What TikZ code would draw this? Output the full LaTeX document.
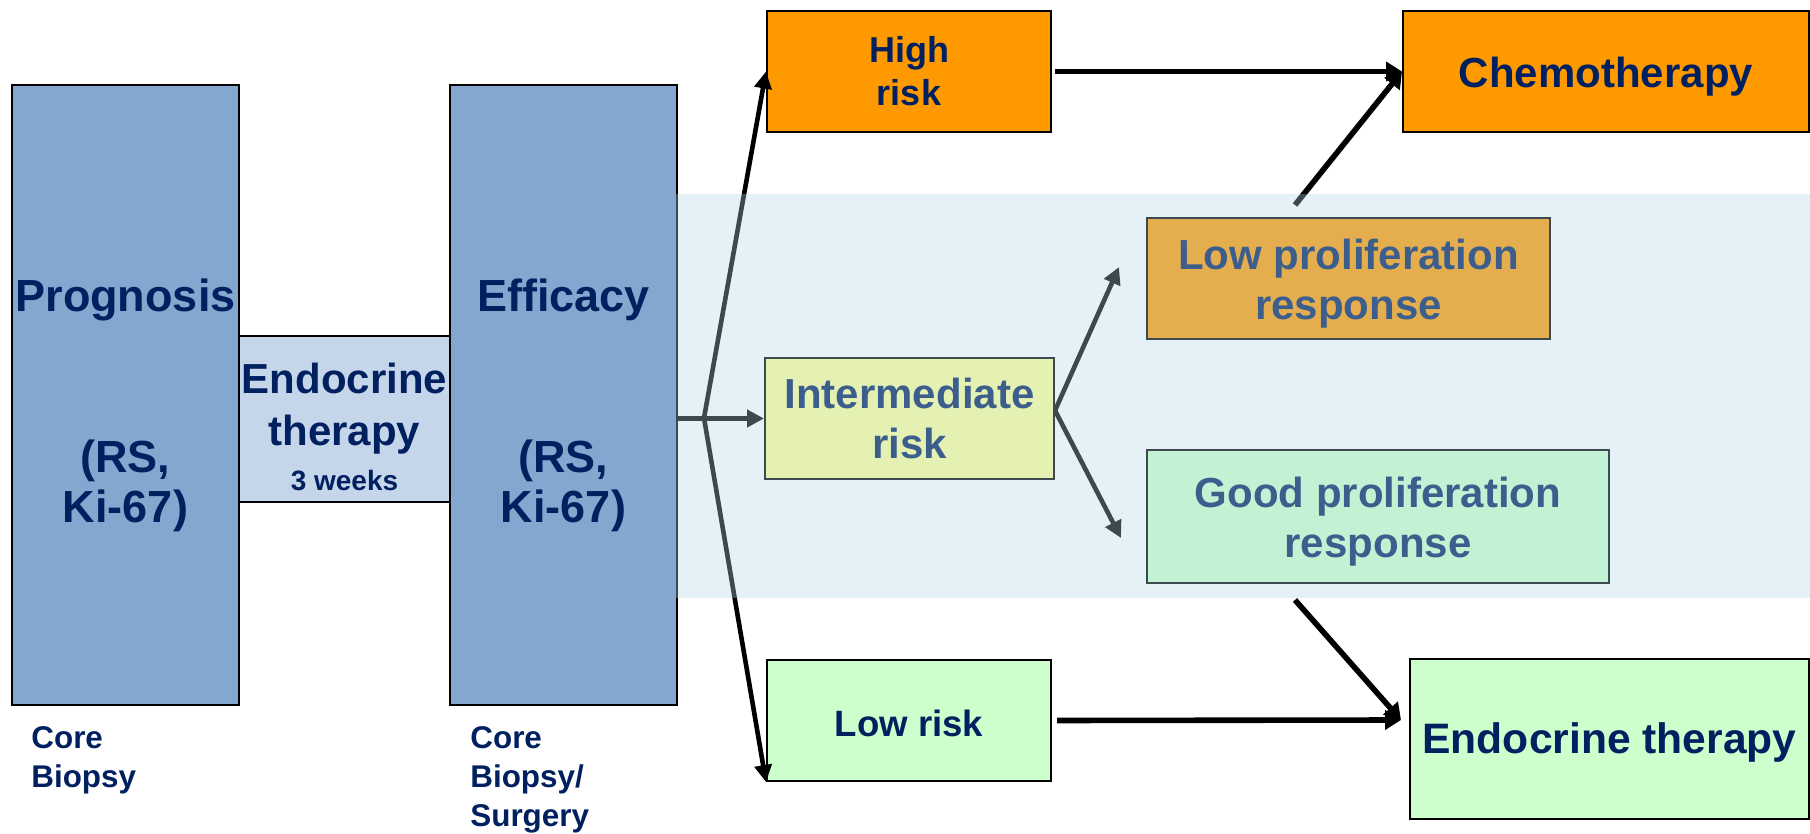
\documentclass[tikz,border=0pt]{standalone}
\usepackage{fontspec}
\setmainfont{Liberation Sans}
\usepackage{tikz}
\usetikzlibrary{arrows.meta}

\begin{document}
\begin{tikzpicture}[x = 0.5pt, y = -0.5pt,
		box/.style = {draw, line width = 1pt, inner sep = 0pt, anchor = north west, align = center, text = navy},
		tall box/.style = {box, fill = blockBlue, minimum width = 113.5pt, minimum height = 310pt,
			font = \bfseries\fontsize{22.5}{25}\selectfont},
		first line/.style = {execute at begin node = {\rule{0pt}{#1}}},
		note/.style = {inner sep = 0pt, anchor = north west, align = left, text = navy,
			font = \bfseries\fontsize{15.7}{19.6}\selectfont},
		flow/.style = {line width = 2.3pt, -{Triangle[length = 8.5pt, width = 8.5pt]}},
		thick flow/.style = {line width = 2.8pt, -{Triangle[length = 8pt, width = 9.5pt]}},
		]

		\definecolor{navy}{RGB}{0, 32, 96}
		\definecolor{blockBlue}{RGB}{132, 167, 207}
		\definecolor{paleBlue}{RGB}{197, 213, 234}
		\definecolor{riskOrange}{RGB}{255, 153, 0}
		\definecolor{paleYellow}{RGB}{255, 255, 153}
		\definecolor{paleGreen}{RGB}{204, 255, 204}
		\definecolor{bandBlue}{RGB}{176, 214, 230}

		\useasboundingbox (0, 0) rectangle (1810, 834);

		% Measurement columns
		\node[tall box] (prog) at (11, 84) {\rule{0pt}{26.6pt}Prognosis\\[55.5pt](RS,\\Ki-67)};
		\node[box, fill = paleBlue, minimum width = 105.5pt, minimum height = 83pt,
			font = \bfseries\fontsize{21}{26}\selectfont] (endoShort) at (238, 335)
			{\rule{0pt}{23pt}Endocrine\\therapy\\[-3.5pt]{\fontsize{14}{17}\selectfont 3 weeks}};
		\node[tall box] (eff) at (449, 84) {\rule{0pt}{26.6pt}Efficacy\\[55.5pt](RS,\\Ki-67)};

		\node[note] (coreProg) at (31, 726) {Core\\Biopsy};
		\node[note] (coreEff) at (470, 726) {Core\\Biopsy/\\Surgery};

		% Risk groups
		\node[box, fill = riskOrange, minimum width = 142pt, minimum height = 60.5pt,
			font = \bfseries\fontsize{18}{21.5}\selectfont] (high) at (766, 10) {High\\risk};
		\node[box, fill = paleYellow, minimum width = 144.5pt, minimum height = 60.5pt,
			font = \bfseries\fontsize{21}{25}\selectfont] (inter) at (764, 357) {Intermediate\\risk};
		\node[box, fill = paleGreen, minimum width = 142pt, minimum height = 60.5pt, first line = 15.9pt,
			font = \bfseries\fontsize{18.3}{22}\selectfont] (lowRisk) at (766, 659) {Low risk};

		% Proliferation response
		\node[box, fill = riskOrange, minimum width = 201.5pt, minimum height = 60.5pt,
			font = \bfseries\fontsize{21}{25}\selectfont] (lowProl) at (1146, 217)
			{\rule{0pt}{20.1pt}Low proliferation\\response};
		\node[box, fill = paleGreen, minimum width = 231pt, minimum height = 66.5pt,
			font = \bfseries\fontsize{21}{25}\selectfont] (goodProl) at (1146, 449)
			{\rule{0pt}{20.4pt}Good proliferation\\response};

		% Treatments
		\node[box, fill = riskOrange, minimum width = 203pt, minimum height = 60.5pt, first line = 20.4pt,
			font = \bfseries\fontsize{21}{25}\selectfont] (chemo) at (1402, 10) {Chemotherapy};
		\node[box, fill = paleGreen, minimum width = 199.5pt, minimum height = 80pt, first line = 19.2pt,
			font = \bfseries\fontsize{21.3}{25}\selectfont] (endoLong) at (1409, 658) {Endocrine therapy};

		% Arrow end points
		\coordinate (fork) at (704, 418);
		\coordinate (lowProlIn) at (1119, 267);
		\coordinate (goodProlIn) at (1121, 538);
		\coordinate (lowProlOut) at (1295, 205);
		\coordinate (goodProlOut) at (1295, 600);
		\coordinate (endoIn) at (1401, 720);

		% Efficacy to risk groups
		\draw[flow] (eff.east |- inter.west) -- (inter.west);
		\draw[flow] (fork) -- (high.west);
		\draw[flow] (fork) -- (lowRisk.south west);

		% Intermediate split
		\draw[flow] ([yshift = 4pt]inter.east) -- (lowProlIn);
		\draw[flow] ([yshift = 4pt]inter.east) -- (goodProlIn);

		% Into treatments
		\draw[thick flow, shorten <= 1.5pt] (high.east) -- (chemo.west);
		\draw[thick flow] (lowProlOut) -- (chemo.west);
		\draw[thick flow, shorten <= 2.5pt] (lowRisk.east) -- (endoIn);
		\draw[thick flow] (goodProlOut) -- (endoIn);

		% Intermediate band laid over everything
		\fill[bandBlue, fill opacity = 0.343] (676, 194) rectangle (1810, 598);

	\end{tikzpicture}
\end{document}
